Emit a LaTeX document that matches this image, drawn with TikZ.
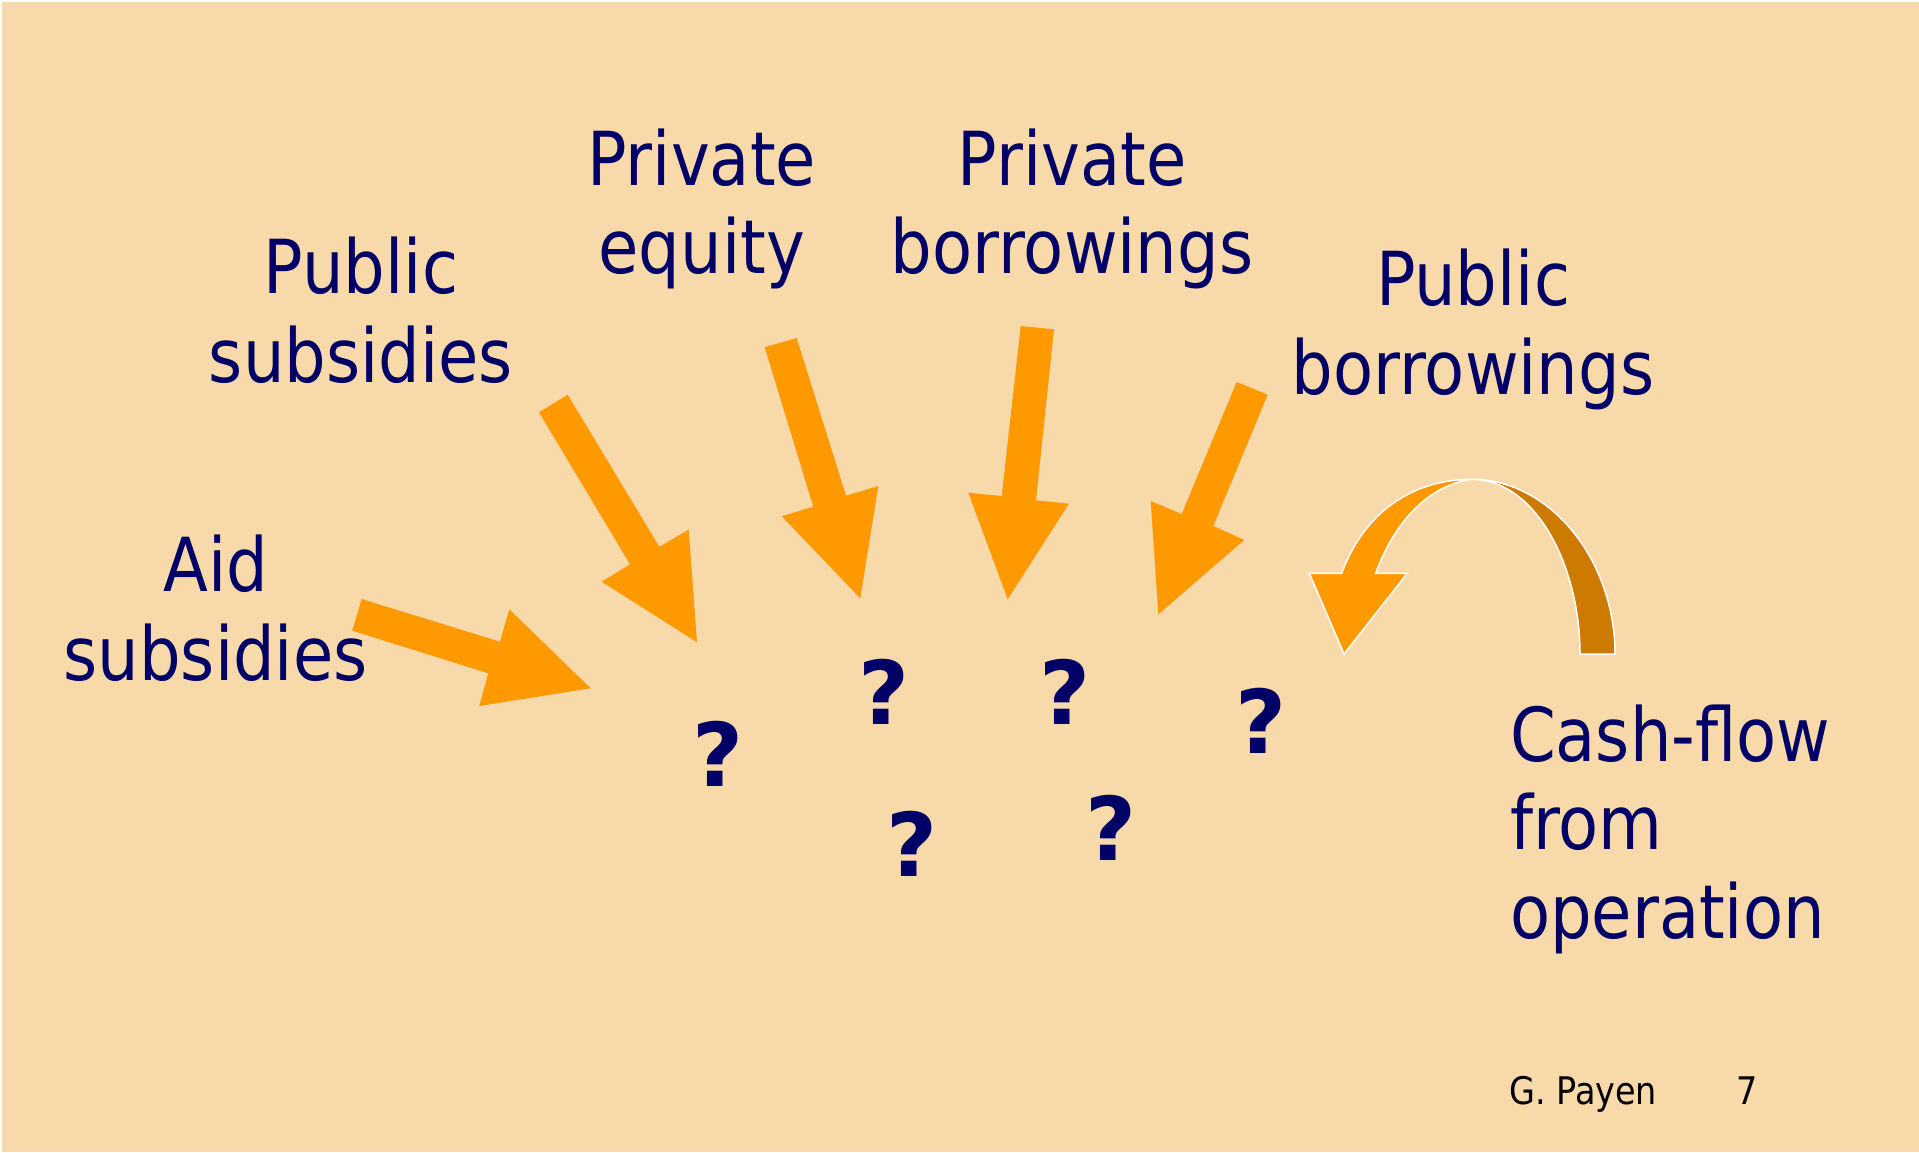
\documentclass[tikz,border=0pt]{standalone}
\usepackage{fontspec}
\setmainfont{DejaVu Sans}[FakeStretch=0.88]
\newfontfamily\qfont{DejaVu Sans}[FakeStretch=1.0]
\definecolor{bgbeige}{HTML}{F8D9AA}
\definecolor{arrowor}{HTML}{FF9900}
\definecolor{arrowdark}{HTML}{CC7A00}
\definecolor{navy}{HTML}{000066}
\tikzset{
  blockarrow/.style={fill=arrowor, draw=none},
  curvefront/.style={fill=arrowor, draw=white, line width=1.5pt, line join=miter},
  curveback/.style={fill=arrowdark, draw=white, line width=1.5pt, line join=miter},
  label/.style={text=navy, inner sep=0pt, outer sep=0pt, align=center, anchor=base,
    font=\fontsize{74.5}{88.3}\selectfont},
  qmark/.style={text=navy, inner sep=0pt, anchor=base, font=\qfont\fontsize{88}{100}\selectfont\bfseries},
  footer/.style={text=black, inner sep=0pt, anchor=base west, font=\fontsize{38}{44}\selectfont}
}
\begin{document}
\begin{tikzpicture}[x=1pt,y=-1pt]
\useasboundingbox (0,0) rectangle (1919,1152);
\fill[white] (0,0) rectangle (1919,1152);
\fill[bgbeige] (1.7,1.7) rectangle (1919,1152);

% straight block arrows
\fill[blockarrow] (361.7,599) -- (500,641.7) -- (509.3,609.3) -- (590.7,688.3) -- (479.3,706) -- (488.3,673.3) -- (352.3,630.7) -- cycle;
\fill[blockarrow] (567.7,394.7) -- (659.3,546.7) -- (688.7,529.7) -- (697,642.3) -- (601.7,581.7) -- (630,564.3) -- (539,412.3) -- cycle;
\fill[blockarrow] (796.7,338) -- (846,495.7) -- (878.3,486) -- (860.3,598.3) -- (781.7,516.3) -- (813.3,506.7) -- (764.7,347.3) -- cycle;
\fill[blockarrow] (1054,329.3) -- (1036,500.3) -- (1069,503.7) -- (1007.7,599.3) -- (968.3,492.7) -- (1001.7,496) -- (1020.7,326) -- cycle;
\fill[blockarrow] (1267.7,394.7) -- (1213.3,526) -- (1244.3,540) -- (1158.3,614.3) -- (1150.7,501) -- (1181.7,514) -- (1236.7,382) -- cycle;

% curved arrow
\coordinate (top) at (1471.7,479.3);
\filldraw[curveback] (top) .. controls (1550,479.3) and (1615,560) .. (1615,654) -- (1580,654)
  .. controls (1580,565) and (1535,479.3) .. (top) -- cycle;
\filldraw[curvefront] (1309.3,573.3) -- (1341.7,573.3) .. controls (1365,510) and (1415,479.3) .. (top)
  .. controls (1430,485) and (1395,520) .. (1375.7,573.3) -- (1407.3,573.3) -- (1344,654) -- cycle;

% labels (anchor = baseline of the last line)
\node[label] (aid) at (215.5,680) {Aid\\subsidies};
\node[label] (pubsub) at (361,382) {Public\\subsidies};
\node[label] (priveq) at (701.7,273.3) {Private\\equity};
\node[label] (privbor) at (1072,273.3) {Private\\borrowings};
\node[label] (pubbor) at (1473,394) {Public\\borrowings};
\node[label, anchor=base west, align=left] (cash) at (1510,938) {Cash-flow\\from\\operation};

% question marks
\node[qmark] (q1) at (718.5,786) {?};
\node[qmark] (q2) at (883.7,724.5) {?};
\node[qmark] (q3) at (1064.8,724.5) {?};
\node[qmark] (q4) at (1260.6,753) {?};
\node[qmark] (q5) at (911.8,876) {?};
\node[qmark] (q6) at (1111.3,860.4) {?};

% footer
\node[footer] (author) at (1509,1104.3) {G. Payen};
\node[footer, anchor=base] (page) at (1747.5,1104.3) {7};
\end{tikzpicture}
\end{document}
